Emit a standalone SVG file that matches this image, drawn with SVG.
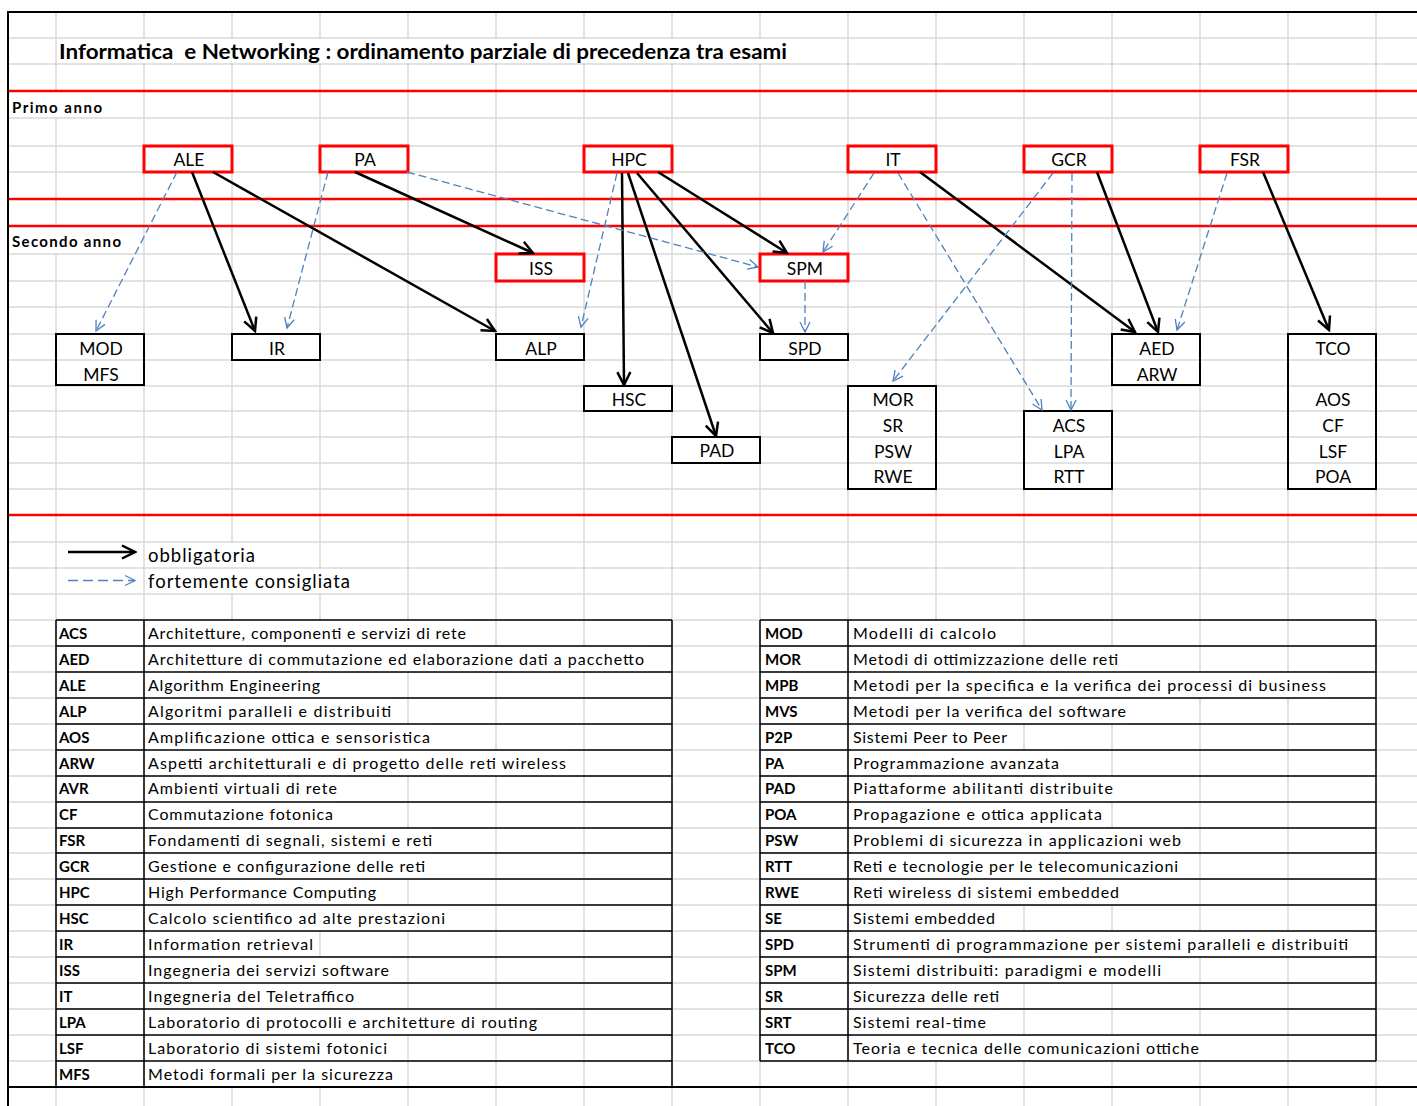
<svg xmlns="http://www.w3.org/2000/svg" width="1417" height="1106" viewBox="0 0 1417 1106">
<style>
  .grid{stroke:#D9D9D9;stroke-width:1.5;fill:none}
  .mask{fill:#FFFFFF;stroke:none}
  .red{stroke:#FF0000;stroke-width:2.5;fill:none}
  .blk{stroke:#000000;stroke-width:2;fill:none}
  .tbl{stroke:#000000;stroke-width:1.5;fill:none}
  .nodeR{stroke:#FF0000;stroke-width:3;fill:none}
  .nodeB{stroke:#000000;stroke-width:2;fill:none}
  .lbl{font-family:Lato,"Liberation Sans",sans-serif;font-size:17.5px;fill:#000;text-anchor:middle}
  .ab{font-family:Lato,"Liberation Sans",sans-serif;font-size:15px;font-weight:bold;fill:#000}
  .ds{font-family:Lato,"Liberation Sans",sans-serif;font-size:16px;fill:#000}
  .hd{font-family:Lato,"Liberation Sans",sans-serif;font-size:15px;font-weight:bold;fill:#000}
  .ttl{font-family:Lato,"Liberation Sans",sans-serif;font-size:20px;font-weight:bold;fill:#000}
  .lg{font-family:Lato,"Liberation Sans",sans-serif;font-size:18.5px;fill:#000}
  .sol{stroke:#000000;stroke-width:2.5;fill:none;marker-end:url(#ahS)}
  .dsh{stroke:#4F81BD;stroke-width:1.3;fill:none;stroke-dasharray:8 4;marker-end:url(#ahD)}
</style>
<defs>
  <marker id="ahS" viewBox="-16 -9 18 18" markerWidth="18" markerHeight="18" refX="0" refY="0" orient="auto" markerUnits="userSpaceOnUse">
    <path d="M-13,-6.5 L0,0 L-13,6.5" fill="none" stroke="#000000" stroke-width="2.5"/>
  </marker>
  <marker id="ahD" viewBox="-13 -7 15 14" markerWidth="15" markerHeight="14" refX="0" refY="0" orient="auto" markerUnits="userSpaceOnUse">
    <path d="M-10,-5 L0,0 L-10,5" fill="none" stroke="#4F81BD" stroke-width="1.3"/>
  </marker>
</defs>
<rect x="0" y="0" width="1417" height="1106" fill="#FFFFFF"/>

<g id="grid">
  <path class="grid" d="M56,12V1106M144,12V1106M232,12V1106M320,12V1106M408,12V1106M496,12V1106M584,12V1106M672,12V1106M760,12V1106M848,12V1106M936,12V1106M1024,12V1106M1112,12V1106M1200,12V1106M1288,12V1106M1376,12V1106"/>
  <path class="grid" d="M8,38H1417M8,64H1417M8,118H1417M8,146H1417M8,172H1417M8,254H1417M8,281H1417M8,307H1417M8,334H1417M8,360H1417M8,386H1417M8,411H1417M8,437H1417M8,463H1417M8,489H1417M8,542H1417M8,568H1417M8,594H1417M8,620H1417M8,646H1417M8,672H1417M8,698H1417M8,724H1417M8,750H1417M8,776H1417M8,802H1417M8,828H1417M8,853H1417M8,879H1417M8,905H1417M8,931H1417M8,957H1417M8,983H1417M8,1009H1417M8,1035H1417M8,1061H1417"/>
  <rect class="mask" x="58" y="39" width="731" height="24"/>
  <rect class="mask" x="9" y="92" width="96" height="25"/>
  <rect class="mask" x="9" y="227" width="114" height="26"/>
  <rect class="mask" x="146" y="543" width="112" height="24"/>
  <rect class="mask" x="146" y="569" width="207" height="24"/>
  <g>
    <rect class="mask" x="146" y="620" width="323" height="26"/>
    <rect class="mask" x="146" y="646" width="502" height="26"/>
    <rect class="mask" x="146" y="672" width="177" height="26"/>
    <rect class="mask" x="146" y="698" width="248" height="26"/>
    <rect class="mask" x="146" y="724" width="287" height="26"/>
    <rect class="mask" x="146" y="750" width="423" height="26"/>
    <rect class="mask" x="146" y="776" width="194" height="26"/>
    <rect class="mask" x="146" y="802" width="190" height="26"/>
    <rect class="mask" x="146" y="828" width="289" height="25"/>
    <rect class="mask" x="146" y="853" width="282" height="26"/>
    <rect class="mask" x="146" y="879" width="233" height="26"/>
    <rect class="mask" x="146" y="905" width="303" height="26"/>
    <rect class="mask" x="146" y="931" width="170" height="26"/>
    <rect class="mask" x="146" y="957" width="246" height="26"/>
    <rect class="mask" x="146" y="983" width="211" height="26"/>
    <rect class="mask" x="146" y="1009" width="394" height="26"/>
    <rect class="mask" x="146" y="1035" width="244" height="26"/>
    <rect class="mask" x="146" y="1061" width="250" height="26"/>
  </g>
  <g>
    <rect class="mask" x="851" y="620" width="148" height="26"/>
    <rect class="mask" x="851" y="646" width="270" height="26"/>
    <rect class="mask" x="851" y="672" width="478" height="26"/>
    <rect class="mask" x="851" y="698" width="278" height="26"/>
    <rect class="mask" x="851" y="724" width="159" height="26"/>
    <rect class="mask" x="851" y="750" width="211" height="26"/>
    <rect class="mask" x="851" y="776" width="265" height="26"/>
    <rect class="mask" x="851" y="802" width="254" height="26"/>
    <rect class="mask" x="851" y="828" width="334" height="25"/>
    <rect class="mask" x="851" y="853" width="330" height="26"/>
    <rect class="mask" x="851" y="879" width="271" height="26"/>
    <rect class="mask" x="851" y="905" width="147" height="26"/>
    <rect class="mask" x="851" y="931" width="501" height="26"/>
    <rect class="mask" x="851" y="957" width="314" height="26"/>
    <rect class="mask" x="851" y="983" width="151" height="26"/>
    <rect class="mask" x="851" y="1009" width="139" height="26"/>
    <rect class="mask" x="851" y="1035" width="352" height="26"/>
  </g>
</g>

<g id="frame">
  <path class="red" d="M8,91H1417M8,199H1417M8,226H1417M8,515H1417"/>
  <path class="blk" d="M8,12V1106M7,12H1417M7,1087H1417"/>
</g>

<g id="headings">
  <text class="ttl" x="59" y="59" textLength="728" lengthAdjust="spacingAndGlyphs" xml:space="preserve">Informatica  e Networking : ordinamento parziale di precedenza tra esami</text>
  <text class="hd" x="12" y="112.5" textLength="90">Primo anno</text>
  <text class="hd" x="12" y="246.5" textLength="109">Secondo anno</text>
</g>

<g id="node-ALE"><rect class="nodeR" x="144" y="146" width="88" height="26"/><text class="lbl" x="189" y="166">ALE</text></g>
<g id="node-PA"><rect class="nodeR" x="320" y="146" width="88" height="26"/><text class="lbl" x="365" y="166">PA</text></g>
<g id="node-HPC"><rect class="nodeR" x="584" y="146" width="88" height="26"/><text class="lbl" x="629" y="166">HPC</text></g>
<g id="node-IT"><rect class="nodeR" x="848" y="146" width="88" height="26"/><text class="lbl" x="893" y="166">IT</text></g>
<g id="node-GCR"><rect class="nodeR" x="1024" y="146" width="88" height="26"/><text class="lbl" x="1069" y="166">GCR</text></g>
<g id="node-FSR"><rect class="nodeR" x="1200" y="146" width="88" height="26"/><text class="lbl" x="1245" y="166">FSR</text></g>
<g id="node-ISS"><rect class="nodeR" x="496" y="254" width="88" height="27"/><text class="lbl" x="541" y="274.5">ISS</text></g>
<g id="node-SPM"><rect class="nodeR" x="760" y="254" width="88" height="27"/><text class="lbl" x="805" y="274.5">SPM</text></g>
<g id="node-MOD-MFS"><rect class="nodeB" x="56" y="334" width="88" height="51"/><text class="lbl" x="101" y="355">MOD</text><text class="lbl" x="101" y="380.5">MFS</text></g>
<g id="node-IR"><rect class="nodeB" x="232" y="334" width="88" height="26"/><text class="lbl" x="277" y="355">IR</text></g>
<g id="node-ALP"><rect class="nodeB" x="496" y="334" width="88" height="26"/><text class="lbl" x="541" y="355">ALP</text></g>
<g id="node-SPD"><rect class="nodeB" x="760" y="334" width="88" height="26"/><text class="lbl" x="805" y="355">SPD</text></g>
<g id="node-AED-ARW"><rect class="nodeB" x="1112" y="334" width="88" height="51"/><text class="lbl" x="1157" y="355">AED</text><text class="lbl" x="1157" y="380.5">ARW</text></g>
<g id="node-TCO"><rect class="nodeB" x="1288" y="334" width="88" height="155"/><text class="lbl" x="1333" y="355">TCO</text><text class="lbl" x="1333" y="406">AOS</text><text class="lbl" x="1333" y="431.5">CF</text><text class="lbl" x="1333" y="457.5">LSF</text><text class="lbl" x="1333" y="483">POA</text></g>
<g id="node-HSC"><rect class="nodeB" x="584" y="386" width="88" height="25"/><text class="lbl" x="629" y="406">HSC</text></g>
<g id="node-PAD"><rect class="nodeB" x="672" y="437" width="88" height="26"/><text class="lbl" x="717" y="457">PAD</text></g>
<g id="node-MOR"><rect class="nodeB" x="848" y="386" width="88" height="103"/><text class="lbl" x="893" y="406">MOR</text><text class="lbl" x="893" y="431.5">SR</text><text class="lbl" x="893" y="457.5">PSW</text><text class="lbl" x="893" y="483">RWE</text></g>
<g id="node-ACS"><rect class="nodeB" x="1024" y="411" width="88" height="78"/><text class="lbl" x="1069" y="431.5">ACS</text><text class="lbl" x="1069" y="457.5">LPA</text><text class="lbl" x="1069" y="483">RTT</text></g>

<g id="connectors">
  <path class="sol" d="M192,172L255,331"/>
  <path class="sol" d="M213,172L495,331"/>
  <path class="sol" d="M355,172L533,253"/>
  <path class="sol" d="M622,173L624,385"/>
  <path class="sol" d="M628,173L716,436"/>
  <path class="sol" d="M637,173L773,333"/>
  <path class="sol" d="M658,172L787,253"/>
  <path class="sol" d="M920,172L1135,332"/>
  <path class="sol" d="M1097,172L1158,332"/>
  <path class="sol" d="M1263,172L1329,330"/>
  <path class="dsh" d="M177,172L96,331"/>
  <path class="dsh" d="M328,172L287,328"/>
  <path class="dsh" d="M407,172L758,267"/>
  <path class="dsh" d="M617,173L581,327"/>
  <path class="dsh" d="M874,173L823,252"/>
  <path class="dsh" d="M898,173L1042,410"/>
  <path class="dsh" d="M805,281L805,332"/>
  <path class="dsh" d="M1053,173L893,381"/>
  <path class="dsh" d="M1072,173L1071,410"/>
  <path class="dsh" d="M1227,173L1177,330"/>
</g>

<g id="legend">
  <path class="sol" d="M68,552H135"/>
  <path class="dsh" d="M68,580.5H135" style="stroke-dasharray:10 5"/>
  <text class="lg" x="148" y="561.5" textLength="107">obbligatoria</text>
  <text class="lg" x="148" y="587.5" textLength="202">fortemente consigliata</text>
</g>

<g id="table-left">
  <path class="tbl" d="M56,620H672M56,646H672M56,672H672M56,698H672M56,724H672M56,750H672M56,776H672M56,802H672M56,828H672M56,853H672M56,879H672M56,905H672M56,931H672M56,957H672M56,983H672M56,1009H672M56,1035H672M56,1061H672M56,620V1087M144,620V1087M672,620V1087"/>
  <g class="ab">
    <text x="59" y="638.5">ACS</text><text x="59" y="664.5">AED</text><text x="59" y="690.5">ALE</text><text x="59" y="716.5">ALP</text><text x="59" y="742.5">AOS</text><text x="59" y="768.5">ARW</text><text x="59" y="794">AVR</text><text x="59" y="820">CF</text><text x="59" y="846">FSR</text><text x="59" y="871.5">GCR</text><text x="59" y="897.5">HPC</text><text x="59" y="923.5">HSC</text><text x="59" y="949.5">IR</text><text x="59" y="975.5">ISS</text><text x="59" y="1001.5">IT</text><text x="59" y="1027.5">LPA</text><text x="59" y="1053.5">LSF</text><text x="59" y="1079.5">MFS</text>
  </g>
  <g class="ds">
    <text x="148" y="638.5" textLength="318">Architetture, componenti e servizi di rete</text>
    <text x="148" y="664.5" textLength="496">Architetture di commutazione ed elaborazione dati a pacchetto</text>
    <text x="148" y="690.5" textLength="172">Algorithm Engineering</text>
    <text x="148" y="716.5" textLength="243">Algoritmi paralleli e distribuiti</text>
    <text x="148" y="742.5" textLength="282">Amplificazione ottica e sensoristica</text>
    <text x="148" y="768.5" textLength="418">Aspetti architetturali e di progetto delle reti wireless</text>
    <text x="148" y="794" textLength="189">Ambienti virtuali di rete</text>
    <text x="148" y="820" textLength="185">Commutazione fotonica</text>
    <text x="148" y="846" textLength="284">Fondamenti di segnali, sistemi e reti</text>
    <text x="148" y="871.5" textLength="277">Gestione e configurazione delle reti</text>
    <text x="148" y="897.5" textLength="228">High Performance Computing</text>
    <text x="148" y="923.5" textLength="297">Calcolo scientifico ad alte prestazioni</text>
    <text x="148" y="949.5" textLength="165">Information retrieval</text>
    <text x="148" y="975.5" textLength="241">Ingegneria dei servizi software</text>
    <text x="148" y="1001.5" textLength="206">Ingegneria del Teletraffico</text>
    <text x="148" y="1027.5" textLength="389">Laboratorio di protocolli e architetture di routing</text>
    <text x="148" y="1053.5" textLength="239">Laboratorio di sistemi fotonici</text>
    <text x="148" y="1079.5" textLength="245">Metodi formali per la sicurezza</text>
  </g>
</g>

<g id="table-right">
  <path class="tbl" d="M760,620H1376M760,646H1376M760,672H1376M760,698H1376M760,724H1376M760,750H1376M760,776H1376M760,802H1376M760,828H1376M760,853H1376M760,879H1376M760,905H1376M760,931H1376M760,957H1376M760,983H1376M760,1009H1376M760,1035H1376M760,1061H1376M760,620V1061M848,620V1061M1376,620V1061"/>
  <g class="ab">
    <text x="765" y="638.5">MOD</text><text x="765" y="664.5">MOR</text><text x="765" y="690.5">MPB</text><text x="765" y="716.5">MVS</text><text x="765" y="742.5">P2P</text><text x="765" y="768.5">PA</text><text x="765" y="794">PAD</text><text x="765" y="820">POA</text><text x="765" y="846">PSW</text><text x="765" y="871.5">RTT</text><text x="765" y="897.5">RWE</text><text x="765" y="923.5">SE</text><text x="765" y="949.5">SPD</text><text x="765" y="975.5">SPM</text><text x="765" y="1001.5">SR</text><text x="765" y="1027.5">SRT</text><text x="765" y="1053.5">TCO</text>
  </g>
  <g class="ds">
    <text x="853" y="638.5" textLength="143">Modelli di calcolo</text>
    <text x="853" y="664.5" textLength="265">Metodi di ottimizzazione delle reti</text>
    <text x="853" y="690.5" textLength="473">Metodi per la specifica e la verifica dei processi di business</text>
    <text x="853" y="716.5" textLength="273">Metodi per la verifica del software</text>
    <text x="853" y="742.5" textLength="154">Sistemi Peer to Peer</text>
    <text x="853" y="768.5" textLength="206">Programmazione avanzata</text>
    <text x="853" y="794" textLength="260">Piattaforme abilitanti distribuite</text>
    <text x="853" y="820" textLength="249">Propagazione e ottica applicata</text>
    <text x="853" y="846" textLength="328">Problemi di sicurezza in applicazioni web</text>
    <text x="853" y="871.5" textLength="325">Reti e tecnologie per le telecomunicazioni</text>
    <text x="853" y="897.5" textLength="266">Reti wireless di sistemi embedded</text>
    <text x="853" y="923.5" textLength="142">Sistemi embedded</text>
    <text x="853" y="949.5" textLength="495">Strumenti di programmazione per sistemi paralleli e distribuiti</text>
    <text x="853" y="975.5" textLength="308">Sistemi distribuiti: paradigmi e modelli</text>
    <text x="853" y="1001.5" textLength="146">Sicurezza delle reti</text>
    <text x="853" y="1027.5" textLength="133">Sistemi real-time</text>
    <text x="853" y="1053.5" textLength="346">Teoria e tecnica delle comunicazioni ottiche</text>
  </g>
</g>
</svg>
